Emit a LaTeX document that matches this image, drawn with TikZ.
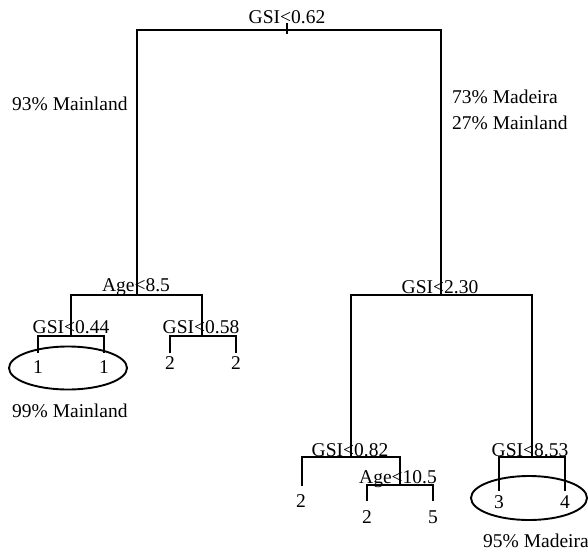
\documentclass[tikz,border=0pt]{standalone}
\usepackage{fontspec}
\setmainfont{Liberation Serif}
\usetikzlibrary{shapes.geometric}
\begin{document}
\begin{tikzpicture}[x=1pt,y=-1pt,
  lbl/.style={inner sep=0pt,anchor=base,font=\fontsize{19.5}{22}\selectfont},
  lbll/.style={lbl,anchor=base west},
  edge/.style={line width=1.9pt,line cap=rect},
  ring/.style={ellipse,draw,line width=1.9pt,inner sep=0pt}]
\useasboundingbox (0,0) rectangle (588,551);
% labels
\node[lbl] (t0) at (287,23.5) {GSI<0.62};
\node[lbll] (t1) at (12,110) {93\% Mainland};
\node[lbll] (t2) at (452,103) {73\% Madeira};
\node[lbll] (t3) at (452,129) {27\% Mainland};
\node[lbl] (tA) at (136,291) {Age<8.5};
\node[lbl] (tB) at (71,333) {GSI<0.44};
\node[lbl] (tC) at (201,333) {GSI<0.58};
\node[lbl] (l1) at (38,373) {1};
\node[lbl] (l2) at (104,373) {1};
\node[lbl] (l3) at (170,369) {2};
\node[lbl] (l4) at (236,369) {2};
\node[lbll] (t4) at (12,417) {99\% Mainland};
\node[lbl] (tD) at (440,293) {GSI<2.30};
\node[lbl] (tE) at (350,456) {GSI<0.82};
\node[lbl] (tF) at (398,483) {Age<10.5};
\node[lbl] (tG) at (530,456) {GSI<8.53};
\node[lbl] (l5) at (301,507) {2};
\node[lbl] (l6) at (367,523) {2};
\node[lbl] (l7) at (433,523) {5};
\node[lbl] (l8) at (499,508) {3};
\node[lbl] (l9) at (565,508) {4};
\node[lbll] (t5) at (483,547) {95\% Madeira};
% ellipses
\node[ring,minimum width=118pt,minimum height=43pt] (e1) at (68,368) {};
\node[ring,minimum width=116pt,minimum height=44pt] (e2) at (529,498) {};
% coordinates
\coordinate (r) at (287,30);
\coordinate (rL) at (137,30);
\coordinate (rR) at (441,30);
\coordinate (aL) at (71,295);
\coordinate (aM) at (137,295);
\coordinate (aR) at (202,295);
\coordinate (bL) at (38,336);
\coordinate (bM) at (71,336);
\coordinate (bR) at (104,336);
\coordinate (cL) at (170,336);
\coordinate (cM) at (202,336);
\coordinate (cR) at (236,336);
\coordinate (dL) at (351,295);
\coordinate (dM) at (441,295);
\coordinate (dR) at (532,295);
\coordinate (eL) at (302,457);
\coordinate (eM) at (351,457);
\coordinate (eR) at (400,457);
\coordinate (fL) at (367,485);
\coordinate (fM) at (400,485);
\coordinate (fR) at (433,485);
\coordinate (gL) at (499,457);
\coordinate (gM) at (532,457);
\coordinate (gR) at (565,457);
% edges
\draw[edge] (rL) -- (rR);
\draw[edge] ([yshift=-3pt]r) -- ([yshift=6pt]r);
\draw[edge] (rL) -- (aM);
\draw[edge] (aL) -- (aR);
\draw[edge] (aL) -- (bM);
\draw[edge] (bL) -- (bR);
\draw[edge] (bL) -- ++(0,16);
\draw[edge] (bR) -- ++(0,16);
\draw[edge] (aR) -- (cM);
\draw[edge] (cL) -- (cR);
\draw[edge] (cL) -- ++(0,16);
\draw[edge] (cR) -- ++(0,16);
\draw[edge] (rR) -- (dM);
\draw[edge] (dL) -- (dR);
\draw[edge] (dL) -- (eM);
\draw[edge] (eL) -- (eR);
\draw[edge] (eL) -- ++(0,28);
\draw[edge] (eR) -- (fM);
\draw[edge] (fL) -- (fR);
\draw[edge] (fL) -- ++(0,15);
\draw[edge] (fR) -- ++(0,15);
\draw[edge] (dR) -- (gM);
\draw[edge] (gL) -- (gR);
\draw[edge] (gL) -- ++(0,33);
\draw[edge] (gR) -- ++(0,33);
\end{tikzpicture}
\end{document}
